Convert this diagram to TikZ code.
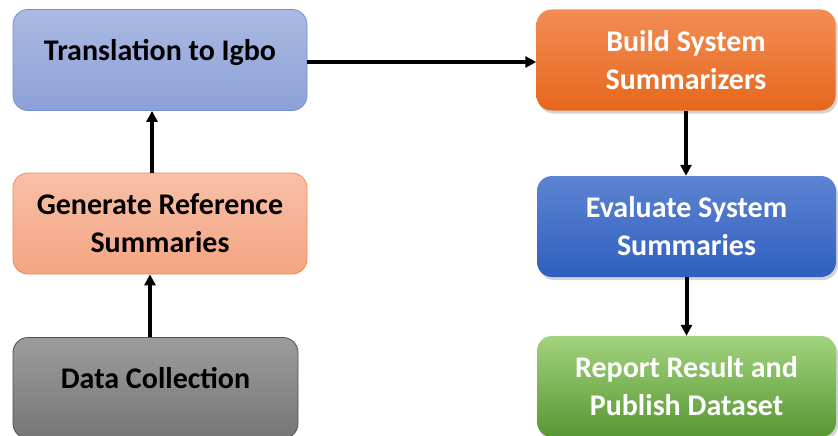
\documentclass[tikz,border=0pt]{standalone}
\usepackage{fontspec}
\setmainfont{Carlito}
\usetikzlibrary{shadows,arrows.meta}
\definecolor{transtop}{HTML}{ABBAE2}
\definecolor{transbot}{HTML}{8CA1D8}
\definecolor{transline}{HTML}{7390D0}
\definecolor{gentop}{HTML}{F7C0A8}
\definecolor{genbot}{HTML}{F4A482}
\definecolor{genline}{HTML}{F08A58}
\definecolor{datatop}{HTML}{9C9C9C}
\definecolor{databot}{HTML}{767676}
\definecolor{dataline}{HTML}{505050}
\definecolor{buildtop}{HTML}{F38D55}
\definecolor{buildbot}{HTML}{E6671C}
\definecolor{evaltop}{HTML}{5D84D2}
\definecolor{evalbot}{HTML}{2F5FBF}
\definecolor{reptop}{HTML}{A2D37E}
\definecolor{repbot}{HTML}{579733}
\begin{document}
\begin{tikzpicture}[x=1pt,y=1pt,
  stepbox/.style={rounded corners=15pt,minimum width=294pt,minimum height=101pt,
    align=center,font=\fontsize{30}{38}\selectfont\bfseries,inner sep=0pt},
  lightbox/.style={stepbox,draw,line width=0.8pt,text=black},
  darkbox/.style={stepbox,text=white,drop shadow={shadow xshift=2pt,shadow yshift=-3pt,opacity=0.35}},
  oneline/.style={text height=20pt,text depth=20pt},
  flow/.style={-{Triangle[length=11pt,width=11pt]},line width=4pt}]
\useasboundingbox (0,0) rectangle (838,-436);
% left column, bottom to top
\node[lightbox,oneline,draw=transline,top color=transtop,bottom color=transbot] (trans) at (160,-60) {Translation to Igbo};
\node[lightbox,draw=genline,top color=gentop,bottom color=genbot] (gen) at (160,-223.5) {Generate Reference\\Summaries};
\node[lightbox,oneline,draw=dataline,top color=datatop,bottom color=databot,minimum width=285pt] (data) at (155.5,-388) {Data Collection};
% right column
\node[darkbox,top color=buildtop,bottom color=buildbot,minimum width=299pt] (build) at (686,-60) {Build System\\Summarizers};
\node[darkbox,top color=evaltop,bottom color=evalbot,minimum width=299pt] (eval) at (686.5,-226.5) {Evaluate System\\Summaries};
\node[darkbox,top color=reptop,bottom color=repbot,minimum width=299pt] (rep) at (686.5,-386.5) {Report Result and\\Publish Dataset};
% connectors
\draw[flow] ([xshift=-5.5pt]data.north) -- ([xshift=-5.5pt]data.north |- gen.south);
\draw[flow] ([xshift=-8pt]gen.north) -- ([xshift=-8pt]gen.north |- trans.south);
\draw[flow] ([yshift=-2pt]trans.east) -- ([yshift=-2pt]trans.east -| build.west);
\draw[flow] (build.south) -- (build.south |- eval.north);
\draw[flow] (eval.south) -- (eval.south |- rep.north);
\end{tikzpicture}
\end{document}
